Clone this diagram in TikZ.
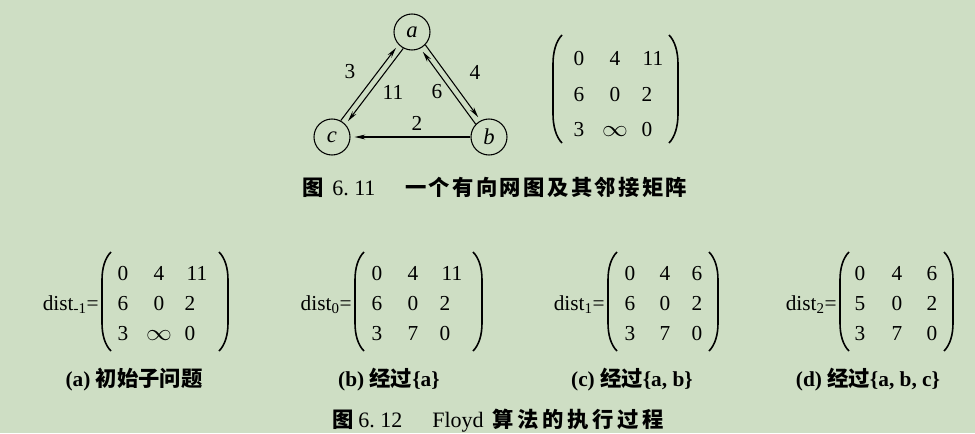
\documentclass[tikz,border=0pt]{standalone}
\usepackage{fontspec}
\setmainfont{Liberation Serif}
\newfontfamily\cjk{Noto Sans CJK SC}
\newfontfamily\cjkcapA[LetterSpace=11]{Noto Sans CJK SC}
\newfontfamily\cjkcapB[LetterSpace=17]{Noto Sans CJK SC}
\usetikzlibrary{arrows.meta}
\definecolor{pagegreen}{RGB}{206,222,196}

\begin{document}
\begin{tikzpicture}[x=0.75pt,y=0.75pt,yscale=-1,xscale=1,
  vertex/.style={draw, circle, minimum size=27pt, inner sep=0pt, line width=0.8pt, font=\fontsize{17}{19}\selectfont\itshape},
  arc/.style={line width=0.8pt, -{Stealth[length=8pt,width=3.6pt]}, shorten >=3pt},
  weight/.style={inner sep=0pt, font=\fontsize{16}{18}\selectfont},
  entry/.style={anchor=base, inner sep=0pt, font=\fontsize{16}{18}\selectfont},
  distlabel/.style={anchor=base east, inner sep=0pt, font=\fontsize{16}{18}\selectfont},
  subcap/.style={anchor=base, inner sep=0pt, font=\fontsize{16}{18}\selectfont\bfseries},
  figcap/.style={anchor=base west, inner sep=0pt, font=\fontsize{16}{18}\selectfont\bfseries},
  fignum/.style={anchor=base west, inner sep=0pt, font=\fontsize{16.5}{18}\selectfont},
  paren/.style={line width=1.2pt}]
\useasboundingbox (0,0) rectangle (975,433);
\fill[pagegreen] (0,0) rectangle (975,433);

%Shape: Circle
\draw (412,32) node [vertex] (a) {a};
%Shape: Circle
\draw (489,137) node [vertex] (b) {b};
%Shape: Circle
\draw (332,137) node [vertex] (c) {c};

%Straight Lines
\draw [arc] (c.62) -- (a.223);
%Straight Lines
\draw [arc] (a.242) -- (c.43);
%Straight Lines
\draw [arc] (a.316) -- (b.117);
%Straight Lines
\draw [arc] (b.136) -- (a.297);
%Straight Lines
\draw [arc] (b) -- (c);

% Text Node
\draw (350,72) node [weight] (w3) {3};
% Text Node
\draw (475,72) node [weight] (w4) {4};
% Text Node
\draw (393,92) node [weight] (w11) {11};
% Text Node
\draw (437,92) node [weight] (w6) {6};
% Text Node
\draw (417,123) node [weight] (w2) {2};

%Shape: Bracket
\draw [paren] (562,35) .. controls (556,41) and (553,52) .. (553,64) -- (553,114) .. controls (553,126) and (556,137) .. (562,143);
%Shape: Bracket
\draw [paren] (669,35) .. controls (675,41) and (678,52) .. (678,64) -- (678,114) .. controls (678,126) and (675,137) .. (669,143);

% Text Node
\draw (579,65) node [entry] (adj11) {0};
\draw (615,65) node [entry] (adj12) {4};
\draw (653,65) node [entry] (adj13) {11};
\draw (579,101) node [entry] (adj21) {6};
\draw (615,101) node [entry] (adj22) {0};
\draw (647,101) node [entry] (adj23) {2};
\draw (579,136) node [entry] (adj31) {3};
\draw (615,136) node [entry] (adj32) {\scalebox{1.12}[1]{$\infty$}};
\draw (647,136) node [entry] (adj33) {0};

% Text Node
\draw (302,195) node [figcap] (figA) {\cjk 图};
\draw (332,195) node [fignum] (numA) {6.\ 11};
\draw (405,195) node [figcap] (capA) {\cjkcapA 一个有向网图及其邻接矩阵};

%Shape: Bracket
\draw [paren] (111,252) .. controls (105,258) and (102,268) .. (102,280) -- (102,323) .. controls (102,335) and (105,345) .. (111,351);
%Shape: Bracket
\draw [paren] (219,252) .. controls (225,258) and (228,268) .. (228,280) -- (228,323) .. controls (228,335) and (225,345) .. (219,351);
%Shape: Bracket
\draw [paren] (364,252) .. controls (358,258) and (355,268) .. (355,280) -- (355,323) .. controls (355,335) and (358,345) .. (364,351);
%Shape: Bracket
\draw [paren] (473,252) .. controls (479,258) and (482,268) .. (482,280) -- (482,323) .. controls (482,335) and (479,345) .. (473,351);
%Shape: Bracket
\draw [paren] (617,252) .. controls (611,258) and (608,268) .. (608,280) -- (608,323) .. controls (608,335) and (611,345) .. (617,351);
%Shape: Bracket
\draw [paren] (709,252) .. controls (715,258) and (718,268) .. (718,280) -- (718,323) .. controls (718,335) and (715,345) .. (709,351);
%Shape: Bracket
\draw [paren] (849,252) .. controls (843,258) and (840,268) .. (840,280) -- (840,323) .. controls (840,335) and (843,345) .. (849,351);
%Shape: Bracket
\draw [paren] (944,252) .. controls (950,258) and (953,268) .. (953,280) -- (953,323) .. controls (953,335) and (950,345) .. (944,351);

% Text Node
\draw (99,310) node [distlabel] (distA) {dist\textsubscript{-1}=};
\draw (123,280) node [entry] (dA11) {0};
\draw (159,280) node [entry] (dA12) {4};
\draw (197,280) node [entry] (dA13) {11};
\draw (123,310) node [entry] (dA21) {6};
\draw (159,310) node [entry] (dA22) {0};
\draw (190,310) node [entry] (dA23) {2};
\draw (123,340) node [entry] (dA31) {3};
\draw (159,340) node [entry] (dA32) {\scalebox{1.12}[1]{$\infty$}};
\draw (190,340) node [entry] (dA33) {0};
\draw (134,386) node [subcap] (subA) {(a) {\cjk 初始子问题}};

% Text Node
\draw (352,310) node [distlabel] (distB) {dist\textsubscript{0}=};
\draw (377,280) node [entry] (dB11) {0};
\draw (413,280) node [entry] (dB12) {4};
\draw (452,280) node [entry] (dB13) {11};
\draw (377,310) node [entry] (dB21) {6};
\draw (413,310) node [entry] (dB22) {0};
\draw (445,310) node [entry] (dB23) {2};
\draw (377,340) node [entry] (dB31) {3};
\draw (413,340) node [entry] (dB32) {7};
\draw (445,340) node [entry] (dB33) {0};
\draw (389,386) node [subcap] (subB) {(b) {\cjk 经过}\{a\}};

% Text Node
\draw (605,310) node [distlabel] (distC) {dist\textsubscript{1}=};
\draw (630,280) node [entry] (dC11) {0};
\draw (665,280) node [entry] (dC12) {4};
\draw (697,280) node [entry] (dC13) {6};
\draw (630,310) node [entry] (dC21) {6};
\draw (665,310) node [entry] (dC22) {0};
\draw (697,310) node [entry] (dC23) {2};
\draw (630,340) node [entry] (dC31) {3};
\draw (665,340) node [entry] (dC32) {7};
\draw (697,340) node [entry] (dC33) {0};
\draw (632,386) node [subcap] (subC) {(c) {\cjk 经过}\{a, b\}};

% Text Node
\draw (837,310) node [distlabel] (distD) {dist\textsubscript{2}=};
\draw (860,280) node [entry] (dD11) {0};
\draw (897,280) node [entry] (dD12) {4};
\draw (932,280) node [entry] (dD13) {6};
\draw (860,310) node [entry] (dD21) {5};
\draw (897,310) node [entry] (dD22) {0};
\draw (932,310) node [entry] (dD23) {2};
\draw (860,340) node [entry] (dD31) {3};
\draw (897,340) node [entry] (dD32) {7};
\draw (932,340) node [entry] (dD33) {0};
\draw (868,386) node [subcap] (subD) {(d) {\cjk 经过}\{a, b, c\}};

% Text Node
\draw (332,427) node [figcap] (figB) {\cjk 图};
\draw (358,427) node [fignum] (numB) {6.\ 12};
\draw (432,427) node [fignum] (floyd) {Floyd};
\draw (492,427) node [figcap] (capB) {\cjkcapB 算法的执行过程};

\end{tikzpicture}
\end{document}
